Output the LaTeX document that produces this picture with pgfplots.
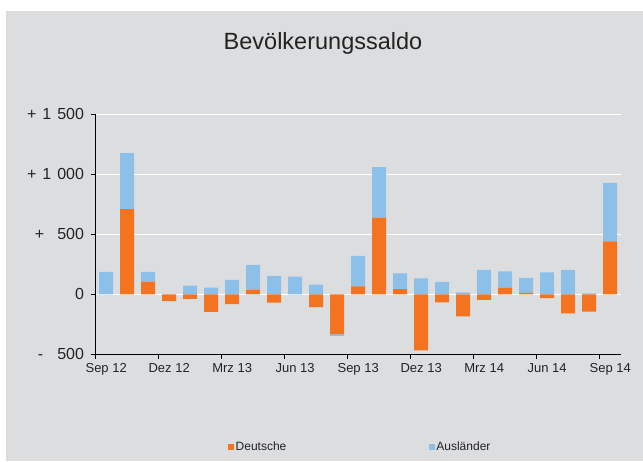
\documentclass[border=0pt]{standalone}
\usepackage{fontspec}
\setmainfont{Liberation Sans}
\usepackage{pgfplots}
\usepackage{pgfplotstable}
\pgfplotsset{compat=1.18}
\definecolor{bg}{RGB}{220,221,223}
\definecolor{orng}{RGB}{243,115,33}
\definecolor{lblue}{RGB}{141,192,233}
\definecolor{txt}{RGB}{35,35,35}
\pgfplotstableread{
idx D A
0 0 186
1 709 467
2 106 80
3 -56 0
4 -39 72
5 -147 56
6 -81 120
7 36 209
8 -70 153
9 0 147
10 -106 81
11 -331 -14
12 67 253
13 639 420
14 44 131
15 -467 133
16 -67 103
17 -183 17
18 -47 203
19 53 139
20 11 125
21 -31 183
22 -158 203
23 -145 8
24 442 486
}\saldo
\begin{document}
\begin{tikzpicture}
\fill[white] (0,0) rectangle (643pt,461pt);
\fill[bg] (6pt,0) rectangle (643pt,450pt);
\useasboundingbox (0,0) rectangle (643pt,461pt);
\node[text=txt, font=\fontsize{23.5}{28}\selectfont] at (323pt,418pt) {Bevölkerungssaldo};
\pgfplotsset{base/.style={scale only axis, width=525pt, height=240pt,
  at={(95.7pt,106.7pt)}, anchor=south west,
  xmin=-0.5, xmax=24.5, ymin=-500, ymax=1500,
  ybar stacked, bar width=14pt}}
\begin{axis}[base,
  axis x line*=bottom, axis y line*=left,
  axis line style={black, line width=0.8pt},
  tick style={black, line width=0.8pt},
  tick align=outside, major tick length=4.5pt,
  ymajorgrids, grid style={white, line width=1.2pt},
  ytick={-500,0,500,1000,1500},
  yticklabels={{-\hspace{14pt}500},{0},{+\hspace{13pt}500},{+\hspace{6pt}1\hspace{6pt}000},{+\hspace{6pt}1\hspace{6pt}500}},
  yticklabel style={font=\fontsize{16}{19}\selectfont, text=txt, inner sep=0pt},
  yticklabel shift=7pt,
  xtick={-0.5,2.5,...,23.5},
  xticklabels={Sep 12,Dez 12,Mrz 13,Jun 13,Sep 13,Dez 13,Mrz 14,Jun 14,Sep 14},
  xticklabel style={font=\fontsize{13}{15}\selectfont, text=txt, inner sep=0pt, xshift=10.5pt},
  xticklabel shift=4.5pt,
  legend columns=2,
  legend cell align=left,
  legend style={at={(0.252,-0.385)}, anchor=west, draw=none, fill=none,
    inner sep=0pt, font=\fontsize{12}{14}\selectfont, text=txt,
    nodes={inner xsep=1.5pt, inner ysep=0pt},
    /tikz/every even column/.append style={column sep=141pt}},
]
\addplot[fill=orng, draw=none, legend image code/.code={\fill[orng] (0pt,-3pt) rectangle (6pt,3pt);}]
  table[x=idx, y expr={max(\thisrow{D},0)}] {\saldo};
\addplot[fill=lblue, draw=none, legend image code/.code={\fill[lblue] (0pt,-3pt) rectangle (6pt,3pt);}]
  table[x=idx, y expr={max(\thisrow{A},0)}] {\saldo};
\legend{Deutsche, Ausländer}
\end{axis}
\begin{axis}[base, hide axis]
\addplot[fill=orng, draw=none] table[x=idx, y expr={min(\thisrow{D},0)}] {\saldo};
\addplot[fill=lblue, draw=none] table[x=idx, y expr={min(\thisrow{A},0)}] {\saldo};
\end{axis}
\end{tikzpicture}
\end{document}
